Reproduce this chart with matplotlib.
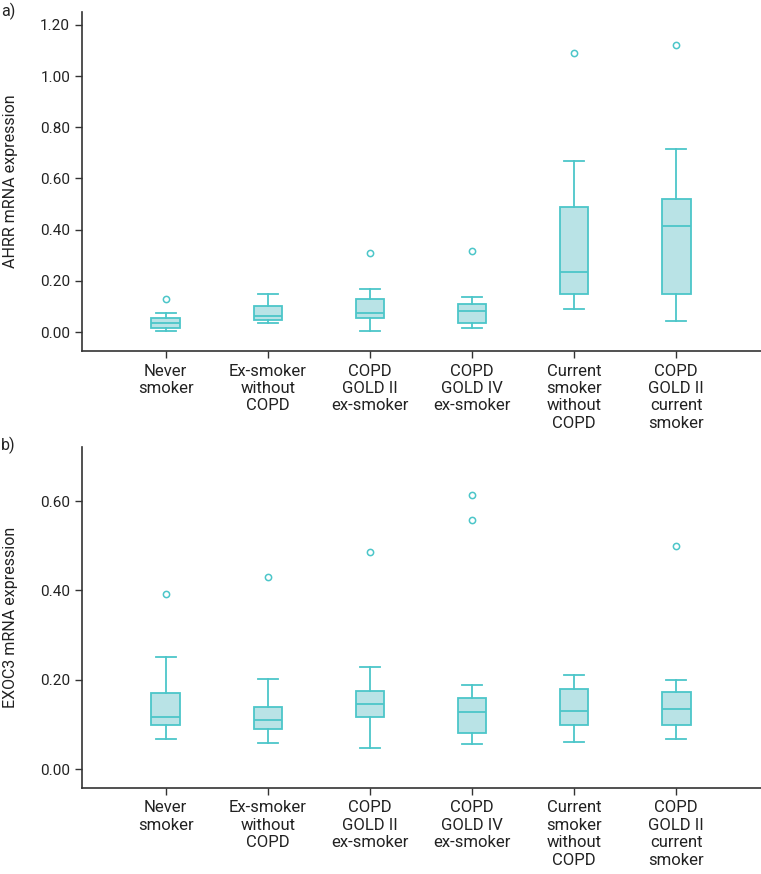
import matplotlib
matplotlib.use("Agg")
import matplotlib.pyplot as plt

categories = ["Never\nsmoker", "Ex-smoker\nwithout\nCOPD", "COPD\nGOLD II\nex-smoker",
              "COPD\nGOLD IV\nex-smoker", "Current\nsmoker\nwithout\nCOPD",
              "COPD\nGOLD II\ncurrent\nsmoker"]

# Panel a: AHRR
ahrr_wlo = [0.004, 0.035, 0.004, 0.016, 0.091, 0.045]
ahrr_q1 = [0.016, 0.048, 0.055, 0.035, 0.147, 0.147]
ahrr_med = [0.037, 0.061, 0.073, 0.082, 0.233, 0.413]
ahrr_q3 = [0.055, 0.103, 0.131, 0.109, 0.488, 0.520]
ahrr_whi = [0.074, 0.147, 0.170, 0.137, 0.669, 0.715]
ahrr_out = [[0.131], [], [0.307], [0.318], [1.091], [1.120]]

# Panel b: EXOC3
exoc_wlo = [0.067, 0.058, 0.048, 0.056, 0.060, 0.067]
exoc_q1 = [0.098, 0.090, 0.116, 0.080, 0.098, 0.098]
exoc_med = [0.117, 0.110, 0.145, 0.128, 0.129, 0.135]
exoc_q3 = [0.171, 0.138, 0.174, 0.159, 0.180, 0.172]
exoc_whi = [0.250, 0.201, 0.229, 0.187, 0.210, 0.200]
exoc_out = [[0.391], [0.429], [0.485], [0.614, 0.558], [], [0.499]]

EDGE = "#4cc6c9"
FILL = "#b9e3e6"
DARK = "#333333"
TXT = "#222222"

plt.rcParams["font.family"] = ["Roboto", "DejaVu Sans"]

fig = plt.figure(figsize=(7.61, 8.74), dpi=100)
W, H = 761, 874

def make_ax(left, top, right, bottom):
    return fig.add_axes([left / W, 1 - bottom / H, (right - left) / W, (bottom - top) / H])

ax1 = make_ax(82, 12, 761, 351)
ax2 = make_ax(82, 447, 761, 788)

def draw(ax, wlo, q1, med, q3, whi, out, ylim, yticks, ylabel):
    stats = []
    for i in range(len(categories)):
        stats.append(dict(whislo=wlo[i], q1=q1[i], med=med[i], q3=q3[i],
                          whishi=whi[i], fliers=out[i], label=categories[i]))
    ax.bxp(stats, positions=range(len(categories)), widths=0.28, patch_artist=True,
           showfliers=True,
           boxprops=dict(facecolor=FILL, edgecolor=EDGE, linewidth=1.3),
           medianprops=dict(color=EDGE, linewidth=1.3),
           whiskerprops=dict(color=EDGE, linewidth=1.3),
           capprops=dict(color=EDGE, linewidth=1.3),
           capwidths=0.2,
           flierprops=dict(marker="o", markerfacecolor="none", markeredgecolor=EDGE,
                           markersize=4.5, markeredgewidth=1.1))
    ax.set_xlim(-0.82, 5.83)
    ax.set_ylim(*ylim)
    ax.set_yticks(yticks)
    ax.set_yticklabels([f"{v:.2f}" for v in yticks], fontsize=11)
    ax.set_xticks(range(len(categories)))
    ax.set_xticklabels(categories, linespacing=1.2, fontsize=12)
    for s in ["top", "right"]:
        ax.spines[s].set_visible(False)
    for s in ["left", "bottom"]:
        ax.spines[s].set_color(DARK)
        ax.spines[s].set_linewidth(1.2)
    ax.tick_params(axis="both", colors=DARK, length=5, width=1.0, labelcolor=TXT)
    ax.tick_params(axis="x", pad=4)
    ax.set_ylabel(ylabel, fontsize=11.5, color=TXT)
    ax.yaxis.set_label_coords(-0.094, 0.5)

draw(ax1, ahrr_wlo, ahrr_q1, ahrr_med, ahrr_q3, ahrr_whi, ahrr_out,
     (-0.074, 1.25), [0.0, 0.2, 0.4, 0.6, 0.8, 1.0, 1.2], "AHRR mRNA expression")
draw(ax2, exoc_wlo, exoc_q1, exoc_med, exoc_q3, exoc_whi, exoc_out,
     (-0.0425, 0.721), [0.0, 0.2, 0.4, 0.6], "EXOC3 mRNA expression")

fig.text(1 / W, 1 - 11 / H, "a)", fontsize=11.5, color=TXT, va="center")
fig.text(1 / W, 1 - 445 / H, "b)", fontsize=11.5, color=TXT, va="center")

fig.savefig("out.png", dpi=100)
